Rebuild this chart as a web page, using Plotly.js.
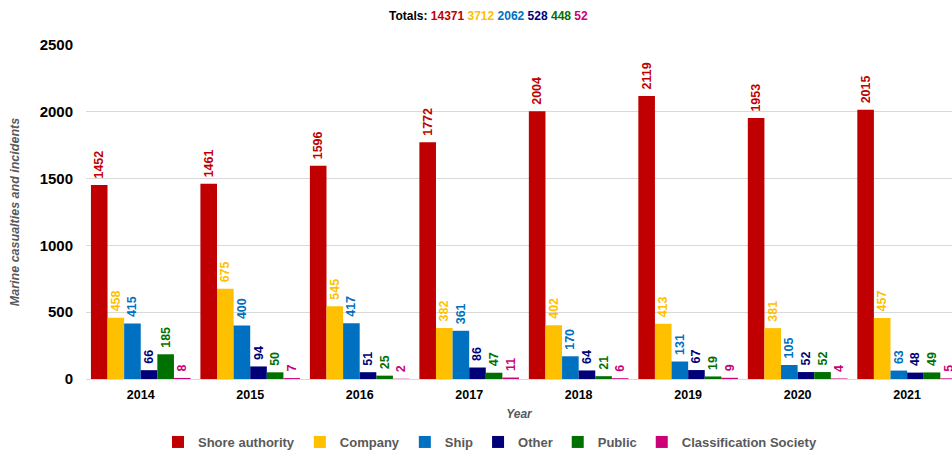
<!DOCTYPE html>
<html>
<head>
<meta charset="utf-8">
<script src="https://cdn.plot.ly/plotly-3.0.1.min.js"></script>
<style>
  html, body { margin: 0; padding: 0; background: #fff; overflow: hidden; }
  #chart { width: 952px; height: 452px; }
</style>
</head>
<body>
<div id="chart"></div>
<script>
  // data
  const years = ['2014', '2015', '2016', '2017', '2018', '2019', '2020', '2021'];
  const seriesNames = ['Shore authority', 'Company', 'Ship', 'Other', 'Public', 'Classification Society'];
  const shoreAuthority = [1452, 1461, 1596, 1772, 2004, 2119, 1953, 2015];
  const company = [458, 675, 545, 382, 402, 413, 381, 457];
  const ship = [415, 400, 417, 361, 170, 131, 105, 63];
  const other = [66, 94, 51, 86, 64, 67, 52, 48];
  const publicSeries = [185, 50, 25, 47, 21, 19, 52, 49];
  const classSociety = [8, 7, 2, 11, 6, 9, 4, 5];
  const totals = [14371, 3712, 2062, 528, 448, 52];

  const COLORS = ['#C00000', '#FFC000', '#0070C0', '#000078', '#007000', '#CC0077'];
  const FONT = 'Liberation Sans, Arial, sans-serif';

  const values = [shoreAuthority, company, ship, other, publicSeries, classSociety];

  const traces = values.map((vals, i) => ({
    type: 'bar',
    name: seriesNames[i],
    x: years,
    y: vals,
    text: vals.map((v) => '\u00A0' + v),
    textposition: 'outside',
    textangle: -90,
    constraintext: 'none',
    cliponaxis: false,
    textfont: { family: FONT, size: 12.5, color: COLORS[i], weight: 'bold' },
    marker: { color: COLORS[i] },
    hovertemplate: '%{x}: %{y}<extra>' + seriesNames[i] + '</extra>',
  }));

  const titleText = '<b>Totals: ' + totals.map((t, i) =>
    `<span style="color:${COLORS[i]}">${t}</span>`).join(' ') + '</b>';

  const layout = {
    width: 952,
    height: 452,
    margin: { t: 45, r: 0, b: 73, l: 86 },
    paper_bgcolor: '#fff',
    plot_bgcolor: '#fff',
    font: { family: FONT, color: '#000', size: 12 },
    barmode: 'group',
    bargap: 0.09,
    bargroupgap: 0,
    title: {
      text: titleText,
      font: { family: FONT, size: 12, color: '#000' },
      x: 0.513, xref: 'container', xanchor: 'center',
      y: 0.965, yref: 'container', yanchor: 'middle',
    },
    xaxis: {
      type: 'category',
      range: [-0.5, 7.41],
      automargin: false,
      showgrid: false,
      zeroline: false,
      showline: false,
      ticklabelstandoff: 6,
      tickfont: { family: FONT, size: 12.5, color: '#000', weight: 'bold' },
      title: {
        text: '<i>Year</i>',
        font: { family: FONT, size: 12, color: '#595959', weight: 'bold' },
        standoff: 9,
      },
    },
    yaxis: {
      range: [0, 2500],
      dtick: 500,
      automargin: false,
      gridcolor: '#d9d9d9',
      gridwidth: 1,
      zeroline: true,
      zerolinecolor: '#d9d9d9',
      zerolinewidth: 1,
      showline: false,
      ticklabelstandoff: 12,
      tickfont: { family: FONT, size: 15, color: '#000', weight: 'bold' },
      title: {
        text: '<i>Marine casualties and incidents</i>',
        font: { family: FONT, size: 12.5, color: '#595959', weight: 'bold' },
        standoff: 17,
      },
    },
    showlegend: true,
    legend: {
      orientation: 'h',
      xref: 'container', yref: 'container',
      x: 490 / 952, xanchor: 'center',
      y: 1 - 442 / 452, yanchor: 'middle',
      bgcolor: 'rgba(0,0,0,0)',
      font: { family: FONT, size: 13, color: '#595959', weight: 'bold' },
      itemclick: false,
    },
  };

  Plotly.newPlot('chart', traces, layout, { displayModeBar: false, staticPlot: true });
</script>
</body>
</html>
